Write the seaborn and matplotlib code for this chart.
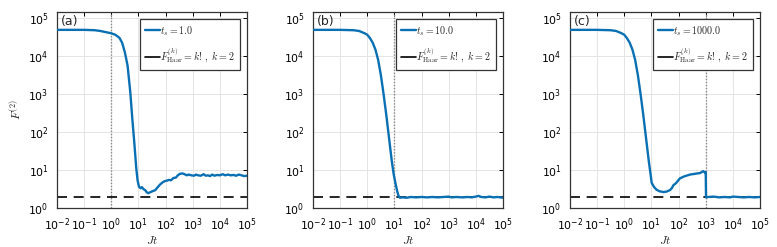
import numpy as np
import pandas as pd
import matplotlib
matplotlib.use("Agg")
import matplotlib.pyplot as plt
from matplotlib.lines import Line2D
import seaborn as sns

# ---- data, x given as log10(Jt), y as log10(F) ----
logx_a = [-2, -1, -0.6, -0.4, -0.2, 0, 0.15, 0.3, 0.4, 0.5, 0.6, 0.7, 0.78, 0.85, 0.92,
          0.97, 1.02, 1.08, 1.13, 1.18, 1.25, 1.3, 1.36, 1.42, 1.48, 1.55, 1.62, 1.7, 1.8,
          1.9, 1.98, 2.05, 2.12, 2.2, 2.29, 2.38, 2.45, 2.53, 2.62, 2.7, 2.78, 2.85, 2.95,
          3.05, 3.12, 3.2, 3.3, 3.4, 3.48, 3.56, 3.64, 3.72, 3.8, 3.9, 4.0, 4.1, 4.2, 4.3,
          4.4, 4.5, 4.6, 4.7, 4.8, 4.9, 5.0]
logy_a = [4.69, 4.69, 4.68, 4.66, 4.63, 4.60, 4.56, 4.48, 4.35, 4.10, 3.75, 3.05, 2.3, 1.7, 1.05,
          0.72, 0.56, 0.52, 0.55, 0.50, 0.47, 0.42, 0.39, 0.41, 0.43, 0.45, 0.47, 0.54, 0.62,
          0.68, 0.71, 0.72, 0.74, 0.73, 0.79, 0.80, 0.86, 0.90, 0.91, 0.89, 0.86, 0.88, 0.86,
          0.85, 0.88, 0.86, 0.85, 0.89, 0.85, 0.86, 0.84, 0.88, 0.85, 0.87, 0.86, 0.89, 0.86, 0.88,
          0.86, 0.87, 0.85, 0.88, 0.86, 0.84, 0.85]

logx_b = [-2, -1, -0.5, -0.3, -0.1, 0, 0.1, 0.2, 0.3, 0.4, 0.5, 0.6, 0.7, 0.8, 0.9, 0.97,
          1.03, 1.1, 1.15, 1.2, 1.3, 1.45, 1.6, 1.8, 2.0, 2.2, 2.4, 2.6, 2.8, 3.0, 3.1, 3.3,
          3.5, 3.7, 3.85, 4.0, 4.1, 4.2, 4.35, 4.5, 4.65, 4.8, 5.0]
logy_b = [4.69, 4.69, 4.68, 4.66, 4.60, 4.56, 4.47, 4.35, 4.17, 3.90, 3.50, 3.00, 2.45, 1.85, 1.25, 0.90,
          0.68, 0.45, 0.32, 0.27, 0.28, 0.27, 0.29, 0.28, 0.29, 0.28, 0.29, 0.28, 0.29, 0.30, 0.28, 0.29,
          0.28, 0.29, 0.28, 0.30, 0.32, 0.29, 0.28, 0.30, 0.28, 0.29, 0.27]

logx_c = [-2, -1, -0.5, -0.3, -0.1, 0, 0.1, 0.2, 0.3, 0.4, 0.5, 0.6, 0.7, 0.8, 0.9, 0.97,
          1.01, 1.1, 1.19, 1.3, 1.44, 1.55, 1.68, 1.75, 1.81, 1.9, 2.05, 2.2, 2.42, 2.6, 2.79,
          2.91, 2.97, 3.0, 3.012, 3.1, 3.3, 3.5, 3.7, 3.9, 4.0, 4.2, 4.4, 4.6, 4.8, 5.0]
logy_c = [4.69, 4.69, 4.68, 4.66, 4.60, 4.56, 4.47, 4.35, 4.17, 3.90, 3.50, 3.00, 2.45, 1.85, 1.25, 0.88,
          0.66, 0.55, 0.48, 0.44, 0.42, 0.43, 0.47, 0.52, 0.60, 0.65, 0.78, 0.83, 0.88, 0.90, 0.92,
          0.97, 0.93, 0.95, 0.28, 0.29, 0.30, 0.28, 0.29, 0.28, 0.30, 0.29, 0.28, 0.29, 0.28, 0.29]

ts_values = [1.0, 10.0, 1000.0]
panel_labels = ["(a)", "(b)", "(c)"]
haar_value = 2

sns.set_style("white")
plt.rcParams["font.family"] = ["DejaVu Sans"]
plt.rcParams["mathtext.fontset"] = "cm"

fig = plt.figure(figsize=(7.77, 2.47), dpi=100)
lefts = [57 / 777, 313 / 777, 570 / 777]
w = 190 / 777
b = 1 - 208 / 247
h = (208 - 12) / 247

blue = "#0a70b4"
panels = [(logx_a, logy_a), (logx_b, logy_b), (logx_c, logy_c)]
for i, ((lx, ly), ts, lab) in enumerate(zip(panels, ts_values, panel_labels)):
    ax = fig.add_axes([lefts[i], b, w, h])
    df = pd.DataFrame({"Jt": 10 ** np.array(lx, dtype=float), "F": 10 ** np.array(ly, dtype=float)})
    ax.set_xscale("log")
    ax.set_yscale("log")
    ax.grid(True, which="major", color="#e4e4e4", lw=0.7)
    ax.axvline(ts, color="#8a8a8a", ls=(0, (1, 1.2)), lw=1.0, zorder=1)
    sns.lineplot(data=df, x="Jt", y="F", ax=ax, color=blue, lw=1.7, zorder=3, legend=False)
    ax.axhline(haar_value, color="black", ls=(0, (6, 4)), lw=1.2, zorder=2)
    ax.set_xlim(1e-2, 1e5)
    ax.set_ylim(1, 10 ** 5.16)
    ax.set_xticks([10.0 ** k for k in range(-2, 6)])
    ax.set_yticks([10.0 ** k for k in range(0, 6)])
    ax.minorticks_off()
    ax.tick_params(which="major", direction="in", length=3, width=0.7, top=True, right=True,
                   labelsize=7.8, colors="black")
    ax.tick_params(axis="x", pad=6)
    ax.tick_params(axis="y", pad=6)
    for s in ax.spines.values():
        s.set_color("#333333")
        s.set_linewidth(0.9)
    ax.set_xlabel(r"$Jt$", fontsize=8.5, labelpad=1)
    if i == 0:
        ax.set_ylabel(r"$F^{(2)}$", fontsize=8.5, labelpad=3)
    else:
        ax.set_ylabel("")
    ax.text(0.02, 0.985, lab, transform=ax.transAxes, ha="left", va="top", fontsize=9)
    handles = [Line2D([], [], color=blue, lw=1.7), Line2D([], [], color="black", lw=1.2)]
    labels = [rf"$t_s = {ts}$", r"$F^{(k)}_{\mathrm{Haar}} = k!\,,\ k = 2$"]
    leg = ax.legend(handles, labels, loc="upper right", fontsize=7.2, frameon=True, fancybox=False,
                    framealpha=1, edgecolor="#333333", borderaxespad=0.7,
                    handlelength=1.5, handletextpad=0.0, borderpad=0.5, labelspacing=0.75)
    leg.get_frame().set_linewidth(0.9)

fig.savefig("out.png", dpi=100)
